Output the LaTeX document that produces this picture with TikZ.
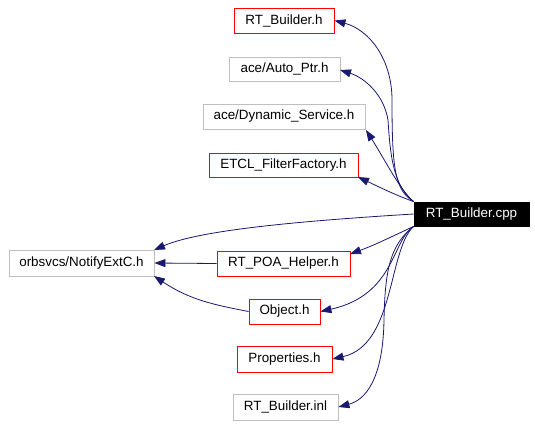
\documentclass[tikz,border=0pt]{standalone}
\usepackage{fontspec}
\setmainfont{Liberation Sans}
\usetikzlibrary{arrows.meta}
\definecolor{edgeblue}{HTML}{191970}
\definecolor{boxgray}{HTML}{BFBFBF}
\begin{document}
\begin{tikzpicture}[x=1pt,y=-1pt,
  box/.style={draw, line width=0.9pt, inner sep=0pt, font=\fontsize{13.4}{15}\selectfont, anchor=center},
  redbox/.style={box, draw=red},
  graybox/.style={box, draw=boxgray},
  mainbox/.style={box, draw=black, fill=black, text=white},
  dep/.style={draw=edgeblue, line width=0.8pt, -{Triangle[length=11pt,width=8pt]}, fill=none},
]
\useasboundingbox (0,0) rectangle (535,426);
\node[redbox, minimum width=100pt, minimum height=25pt] (rtbh) at (284,20.5) {RT\_Builder.h};
\node[graybox, minimum width=111pt, minimum height=24pt] (auto) at (284.5,69) {ace/Auto\_Ptr.h};
\node[graybox, minimum width=162pt, minimum height=25pt] (dyn) at (284,116.5) {ace/Dynamic\_Service.h};
\node[redbox, minimum width=149pt, minimum height=24pt] (etcl) at (283.5,165) {ETCL\_FilterFactory.h};
\node[mainbox, minimum width=115pt, minimum height=24pt] (cpp) at (471.5,214) {RT\_Builder.cpp};
\node[graybox, minimum width=145pt, minimum height=26pt] (notify) at (81.5,263) {orbsvcs/NotifyExtC.h};
\node[redbox, minimum width=133pt, minimum height=25pt] (poa) at (283.5,263.5) {RT\_POA\_Helper.h};
\node[redbox, minimum width=71pt, minimum height=25pt] (obj) at (284.5,311.5) {Object.h};
\node[redbox, minimum width=95pt, minimum height=26pt] (prop) at (284.5,359) {Properties.h};
\node[graybox, minimum width=105pt, minimum height=26pt] (inl) at (285.5,407) {RT\_Builder.inl};

\draw[dep] (cpp.north west) .. controls (395,190) and (392,170) .. (392,100) .. controls (392,60) and (370,30) .. (rtbh.east);
\draw[dep] (cpp.north west) .. controls (392,185) and (390,150) .. (388,120) .. controls (384,95) and (365,78) .. (340,70);
\draw[dep] (cpp.north west) .. controls (400,190) and (385,160) .. (366,130);
\draw[dep] (cpp.north west) .. controls (395,195) and (375,185) .. (358,177);
\draw[dep] (cpp.west) .. controls (300,221) and (200,230) .. (154,250);
\draw[dep] (cpp.south west) .. controls (395,235) and (375,245) .. (350,254);
\draw[dep] (cpp.south west) .. controls (392,240) and (395,295) .. (obj.east);
\draw[dep] (cpp.south west) .. controls (388,250) and (395,345) .. (prop.east);
\draw[dep] (cpp.south west) .. controls (390,245) and (385,270) .. (384,320) .. controls (383,380) and (365,400) .. (inl.east);
\draw[dep] (poa.west) -- (notify.east);
\draw[dep] (obj.west) .. controls (215,305) and (190,300) .. (154,276);
\end{tikzpicture}
\end{document}
